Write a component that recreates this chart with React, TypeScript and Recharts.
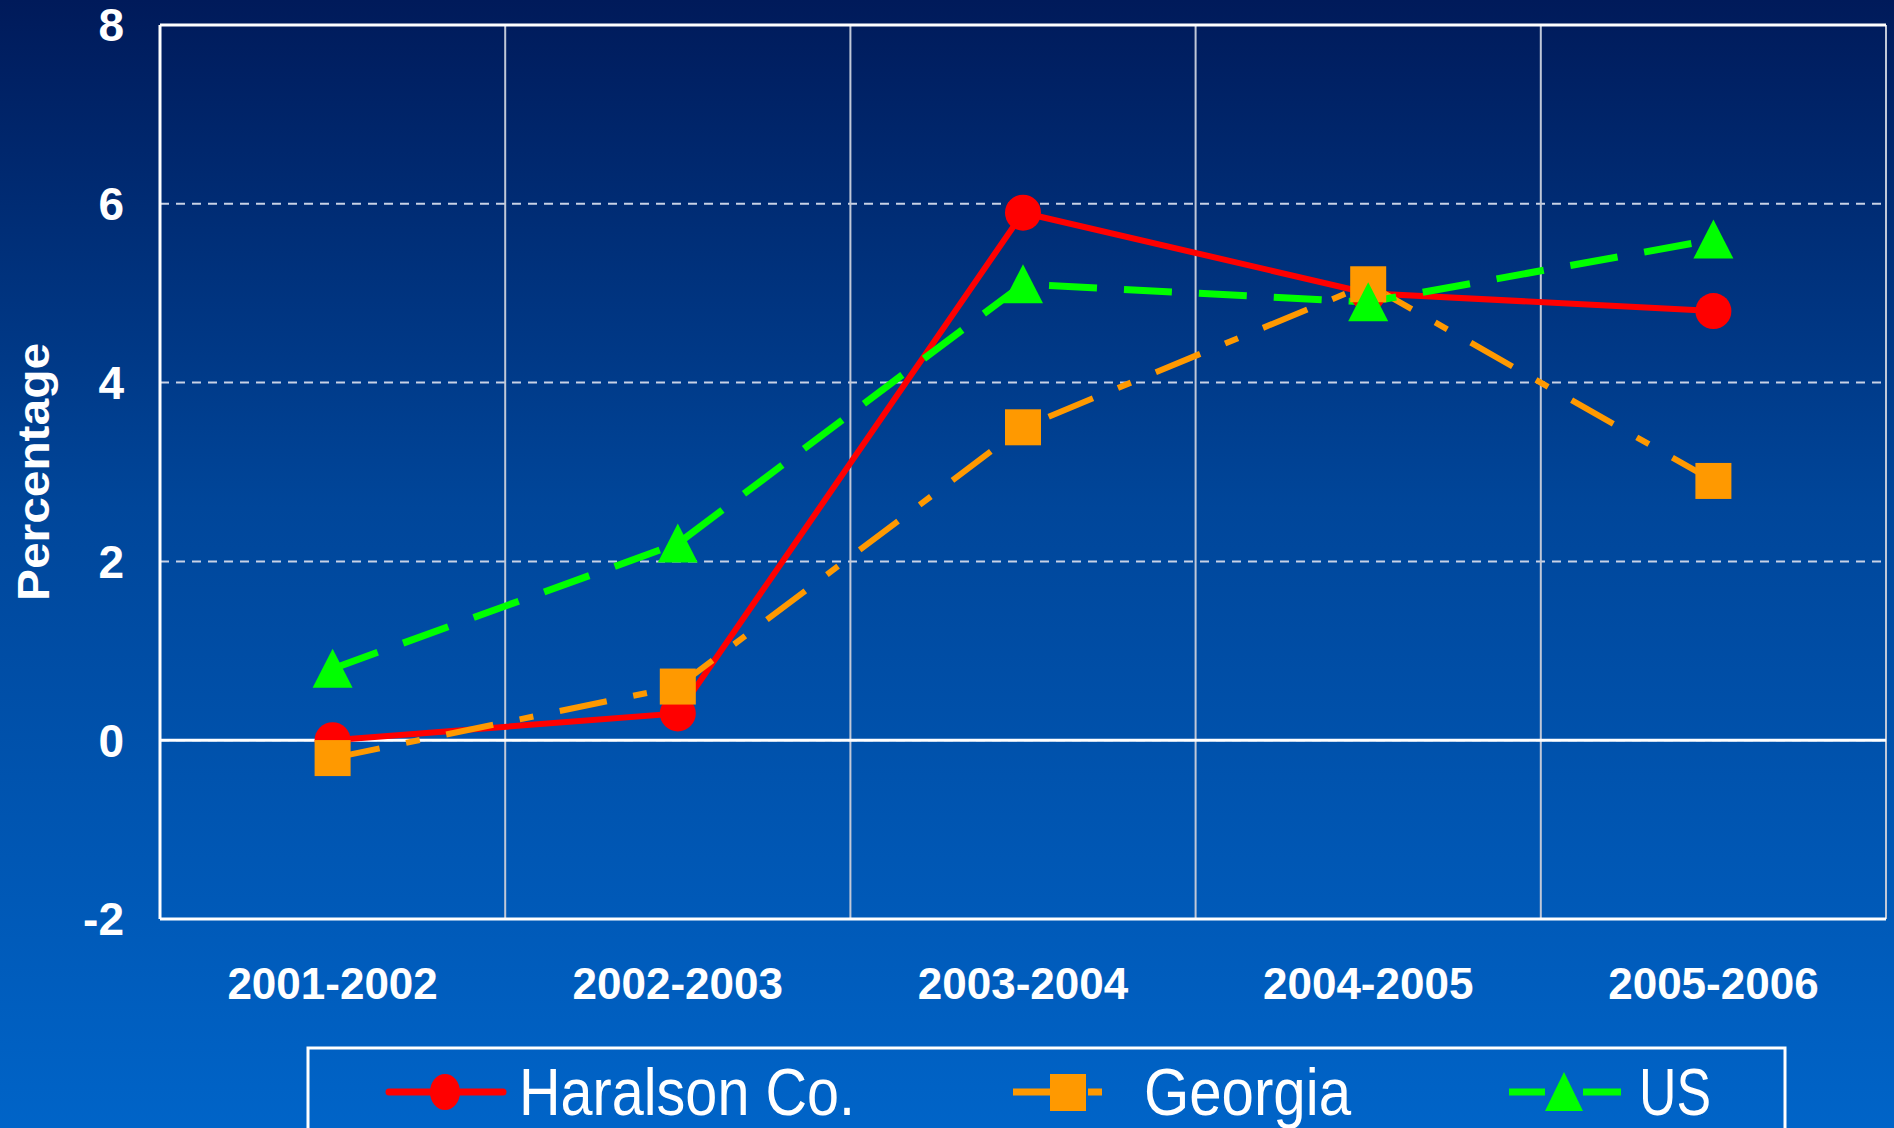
import { LineChart, Line, XAxis, YAxis, CartesianGrid, ReferenceLine } from 'recharts'

const categories = ['2001-2002', '2002-2003', '2003-2004', '2004-2005', '2005-2006']
const haralson = [0, 0.3, 5.9, 5.0, 4.8]
const georgia = [-0.2, 0.6, 3.5, 5.1, 2.9]
const us = [0.8, 2.2, 5.1, 4.9, 5.6]
const yTicks = [-2, 0, 2, 4, 6, 8]

const RED = '#ff0000'
const ORANGE = '#ff9900'
const GREEN = '#00ff00'
const ORANGE_DASH = '48 27 14 27'
const GREEN_DASH = '48 27'

const data = categories.map((name, i) => ({
  name,
  haralson: haralson[i],
  georgia: georgia[i],
  us: us[i],
}))

interface DotProps {
  cx?: number
  cy?: number
  index?: number
}

function CircleDot({ cx, cy, index }: DotProps) {
  if (cx == null || cy == null) return null
  return <circle key={index} cx={cx} cy={cy} r={18} fill={RED} />
}

function SquareDot({ cx, cy, index }: DotProps) {
  if (cx == null || cy == null) return null
  return <rect key={index} x={cx - 18} y={cy - 18} width={36} height={36} fill={ORANGE} />
}

function TriangleDot({ cx, cy, index }: DotProps) {
  if (cx == null || cy == null) return null
  return (
    <polygon
      key={index}
      points={`${cx},${cy - 20} ${cx - 20},${cy + 19} ${cx + 20},${cy + 19}`}
      fill={GREEN}
    />
  )
}

function YLabel({ viewBox }: { viewBox?: { x: number; y: number; width: number; height: number } }) {
  if (!viewBox) return null
  const x = viewBox.x + 33
  const y = viewBox.y + viewBox.height / 2
  return (
    <text
      x={x}
      y={y}
      transform={`rotate(-90 ${x} ${y})`}
      textAnchor="middle"
      dominantBaseline="central"
      fill="#fff"
      fontSize={45}
      fontWeight="bold"
      fontFamily="'Liberation Sans', Arial, sans-serif"
      textLength={258}
      lengthAdjust="spacingAndGlyphs"
    >
      Percentage
    </text>
  )
}

// vertical grid sits on the category boundaries, not on the tick centres
const bandEdges = ({ offset }: { offset: { left: number; width: number } }) =>
  categories.map((_, i) => offset.left + (offset.width * (i + 1)) / categories.length)

function LegendBox() {
  const font = "'Liberation Sans Narrow', 'Liberation Sans', Arial, sans-serif"
  return (
    <svg width={1894} height={1128} style={{ position: 'absolute', left: 0, top: 0, pointerEvents: 'none' }}>
      <rect x={308} y={1048} width={1477} height={100} fill="none" stroke="#fff" strokeWidth={3} />
      {/* Haralson Co. */}
      <line x1={389} y1={1092} x2={503} y2={1092} stroke={RED} strokeWidth={7} strokeLinecap="round" />
      <ellipse cx={445} cy={1092} rx={15} ry={18} fill={RED} />
      <text x={519} y={1115} fill="#fff" fontSize={66} fontFamily={font} textLength={336} lengthAdjust="spacingAndGlyphs">
        Haralson Co.
      </text>
      {/* Georgia */}
      <line x1={1013} y1={1092} x2={1104} y2={1092} stroke={ORANGE} strokeWidth={7} strokeDasharray={ORANGE_DASH} />
      <rect x={1050} y={1074} width={36} height={37} fill={ORANGE} />
      <text x={1144} y={1115} fill="#fff" fontSize={66} fontFamily={font} textLength={207} lengthAdjust="spacingAndGlyphs">
        Georgia
      </text>
      {/* US */}
      <line x1={1509} y1={1092} x2={1621} y2={1092} stroke={GREEN} strokeWidth={7} strokeDasharray="36 38 38" />
      <polygon points="1564,1072 1545,1111 1583,1111" fill={GREEN} />
      <text x={1639} y={1115} fill="#fff" fontSize={66} fontFamily={font} textLength={72} lengthAdjust="spacingAndGlyphs">
        US
      </text>
    </svg>
  )
}

export default function App() {
  return (
    <div
      style={{
        position: 'absolute',
        left: 0,
        top: 0,
        width: 1894,
        height: 1128,
        overflow: 'hidden',
        background: 'linear-gradient(to bottom, #001a5a 0%, #00469a 45%, #0064c8 100%)',
        fontFamily: "'Liberation Sans', Arial, sans-serif",
      }}
    >
      <LineChart
        width={1894}
        height={1128}
        data={data}
        margin={{ top: 25, right: 8, bottom: 129, left: 0 }}
      >
        <CartesianGrid vertical={false} stroke="#c8d2e6" strokeWidth={2} strokeDasharray="9 7" />
        <CartesianGrid
          horizontal={false}
          stroke="#c0c8d8"
          strokeWidth={2}
          verticalCoordinatesGenerator={bandEdges}
        />
        <XAxis
          dataKey="name"
          scale="band"
          axisLine={{ stroke: '#fff', strokeWidth: 3 }}
          tickLine={false}
          tickSize={0}
          tickMargin={49}
          height={80}
          tick={{ fill: '#fff', fontSize: 44, fontWeight: 'bold' }}
          interval={0}
        />
        <YAxis
          domain={[-2, 8]}
          ticks={yTicks}
          width={160}
          interval={0}
          axisLine={{ stroke: '#fff', strokeWidth: 3 }}
          tickLine={false}
          tickSize={0}
          tickMargin={36}
          tick={{ fill: '#fff', fontSize: 46, fontWeight: 'bold' }}
          label={<YLabel />}
        />
        <ReferenceLine y={0} stroke="#fff" strokeWidth={3} />
        <ReferenceLine y={8} stroke="#fff" strokeWidth={3} />
        <Line
          dataKey="haralson"
          stroke={RED}
          strokeWidth={6}
          dot={<CircleDot />}
          activeDot={false}
          isAnimationActive={false}
        />
        <Line
          dataKey="georgia"
          stroke={ORANGE}
          strokeWidth={6}
          strokeDasharray={ORANGE_DASH}
          dot={<SquareDot />}
          activeDot={false}
          isAnimationActive={false}
        />
        <Line
          dataKey="us"
          stroke={GREEN}
          strokeWidth={7}
          strokeDasharray={GREEN_DASH}
          dot={<TriangleDot />}
          activeDot={false}
          isAnimationActive={false}
        />
      </LineChart>
      <LegendBox />
    </div>
  )
}
